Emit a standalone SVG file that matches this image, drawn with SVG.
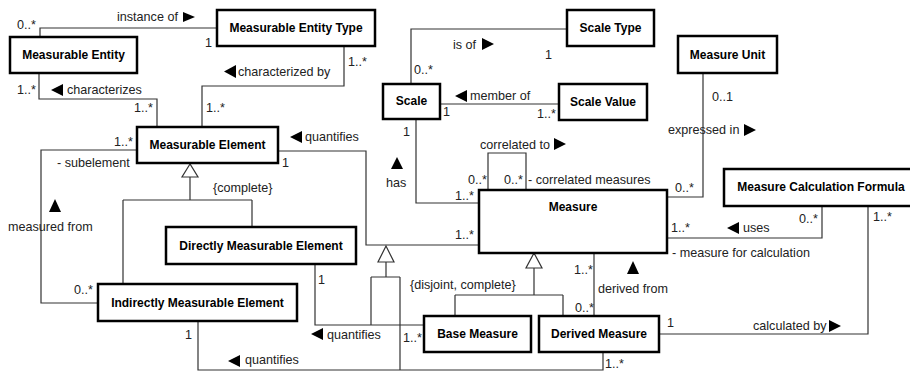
<svg xmlns="http://www.w3.org/2000/svg" width="910" height="372" viewBox="0 0 910 372">
<style>
.box{fill:#fff;stroke:#000;stroke-width:2.5}
.n{font-family:"Liberation Sans",Arial,sans-serif;font-size:12px;font-weight:bold;text-anchor:middle;fill:#000}
.l{font-family:"Liberation Sans",Arial,sans-serif;font-size:12.6px;fill:#222}
.c{fill:none;stroke:#333;stroke-width:1.2}
.g{fill:#fff;stroke:#333;stroke-width:1.2}
.a{fill:#000}
</style>
<rect width="910" height="372" fill="#fff"/>
<g id="connectors">
<path class="c" d="M40,37V28H217"/>
<path class="c" d="M344,46V86H202V127"/>
<path class="c" d="M39,73V99H157V127"/>
<path class="c" d="M137,150H41V303H98"/>
<path class="c" d="M190,177V200M123,200H252M123,200V284M252,200V227"/>
<polygon class="g" points="190,164 182,177 198,177"/>
<path class="c" d="M278,151H366V245H479"/>
<path class="c" d="M386,262V277M371,277H400M371,277V325M400,277V370"/>
<polygon class="g" points="386,246 378,262 394,262"/>
<path class="c" d="M315,264V325H424"/>
<path class="c" d="M198,321V370H603V352"/>
<path class="c" d="M411,84V29H567"/>
<path class="c" d="M440,104H559"/>
<path class="c" d="M416,119V203H479"/>
<path class="c" d="M488,190V153H526V190"/>
<path class="c" d="M703,73V197H667"/>
<path class="c" d="M822,206V238H667"/>
<path class="c" d="M868,206V334H659"/>
<path class="c" d="M594,253V316"/>
<path class="c" d="M534,268V295M455,295H563M455,295V316M563,295V316"/>
<polygon class="g" points="534,253 526,268 542,268"/>
</g>
<g id="labels">
<text class="l" x="17" y="29">0..*</text>
<text class="l" x="117" y="21">instance of</text>
<polygon class="a" points="183,12 195,17 183,22"/>
<text class="l" x="205" y="47">1</text>
<text class="l" x="348" y="66">1..*</text>
<polygon class="a" points="236,65 224,71.5 236,78"/>
<text class="l" x="238" y="76">characterized by</text>
<text class="l" x="206" y="112">1..*</text>
<text class="l" x="17" y="94">1..*</text>
<polygon class="a" points="63,84 51,90 63,96"/>
<text class="l" x="67" y="94">characterizes</text>
<text class="l" x="134" y="112">1..*</text>
<text class="l" x="114" y="146">1..*</text>
<text class="l" x="57" y="167">- subelement</text>
<text class="l" x="282" y="167">1</text>
<polygon class="a" points="302,131 290,137 302,143"/>
<text class="l" x="305" y="141">quantifies</text>
<text class="l" x="213" y="192">{complete}</text>
<polygon class="a" points="55,199 49,212 61,212"/>
<text class="l" x="8" y="231">measured from</text>
<text class="l" x="74" y="294">0..*</text>
<text class="l" x="318" y="284">1</text>
<polygon class="a" points="323,328 311,334 323,340"/>
<text class="l" x="327" y="339">quantifies</text>
<text class="l" x="403" y="342">1..*</text>
<text class="l" x="185" y="339">1</text>
<polygon class="a" points="240,355 228,361 240,367"/>
<text class="l" x="245" y="364">quantifies</text>
<text class="l" x="414" y="74">0..*</text>
<text class="l" x="453" y="49">is of</text>
<polygon class="a" points="482,38 494,44 482,50"/>
<text class="l" x="545" y="59">1</text>
<polygon class="a" points="467,90 455,96 467,102"/>
<text class="l" x="470" y="100">member of</text>
<text class="l" x="443" y="116">1</text>
<text class="l" x="537" y="118">1..*</text>
<text class="l" x="403" y="136">1</text>
<polygon class="a" points="397,157 391,169 403,169"/>
<text class="l" x="386" y="187">has</text>
<text class="l" x="455" y="200">1..*</text>
<text class="l" x="455" y="239">1..*</text>
<text class="l" x="480" y="149">correlated to</text>
<polygon class="a" points="554,138 566,144 554,150"/>
<text class="l" x="468" y="184">0..*</text>
<text class="l" x="504" y="184">0..*</text>
<text class="l" x="528" y="184">- correlated measures</text>
<text class="l" x="712" y="101">0..1</text>
<text class="l" x="668" y="134">expressed in</text>
<polygon class="a" points="744,124 756,130 744,136"/>
<text class="l" x="675" y="192">0..*</text>
<text class="l" x="671" y="232">1..*</text>
<polygon class="a" points="739,222 727,228 739,234"/>
<text class="l" x="743" y="232">uses</text>
<text class="l" x="799" y="223">0..*</text>
<text class="l" x="873" y="221">1..*</text>
<text class="l" x="672" y="257">- measure for calculation</text>
<text class="l" x="574" y="274">1..*</text>
<polygon class="a" points="633,261 627,274 639,274"/>
<text class="l" x="598" y="293">derived from</text>
<text class="l" x="410" y="289">{disjoint, complete}</text>
<text class="l" x="575" y="312">0..*</text>
<text class="l" x="667" y="327">1</text>
<text class="l" x="753" y="330">calculated by</text>
<polygon class="a" points="829,320 841,326 829,332"/>
<text class="l" x="605" y="368">1..*</text>
</g>
<g id="measurable-entity"><rect class="box" x="10" y="37" width="127" height="36"/><text class="n" x="73.5" y="59">Measurable Entity</text></g>
<g id="measurable-entity-type"><rect class="box" x="217" y="10" width="158" height="36"/><text class="n" x="296" y="32">Measurable Entity Type</text></g>
<g id="scale-type"><rect class="box" x="567" y="10" width="87" height="36"/><text class="n" x="610.5" y="32">Scale Type</text></g>
<g id="scale"><rect class="box" x="383" y="84" width="57" height="35"/><text class="n" x="411.5" y="105">Scale</text></g>
<g id="scale-value"><rect class="box" x="559" y="84" width="88" height="36"/><text class="n" x="603" y="106">Scale Value</text></g>
<g id="measure-unit"><rect class="box" x="678" y="36" width="99" height="37"/><text class="n" x="727.5" y="59">Measure Unit</text></g>
<g id="measurable-element"><rect class="box" x="137" y="127" width="141" height="36"/><text class="n" x="207.5" y="149">Measurable Element</text></g>
<g id="measure-calculation-formula"><rect class="box" x="724" y="169" width="190" height="37"/><text class="n" x="821" y="191">Measure Calculation Formula</text></g>
<g id="measure"><rect class="box" x="479" y="190" width="188" height="63"/><text class="n" x="573" y="211">Measure</text></g>
<g id="directly-measurable-element"><rect class="box" x="166" y="227" width="190" height="37"/><text class="n" x="261" y="250">Directly Measurable Element</text></g>
<g id="indirectly-measurable-element"><rect class="box" x="98" y="284" width="199" height="37"/><text class="n" x="197.5" y="307">Indirectly Measurable Element</text></g>
<g id="base-measure"><rect class="box" x="424" y="316" width="107" height="36"/><text class="n" x="477.5" y="338">Base Measure</text></g>
<g id="derived-measure"><rect class="box" x="539" y="316" width="120" height="36"/><text class="n" x="599" y="338">Derived Measure</text></g>
</svg>
